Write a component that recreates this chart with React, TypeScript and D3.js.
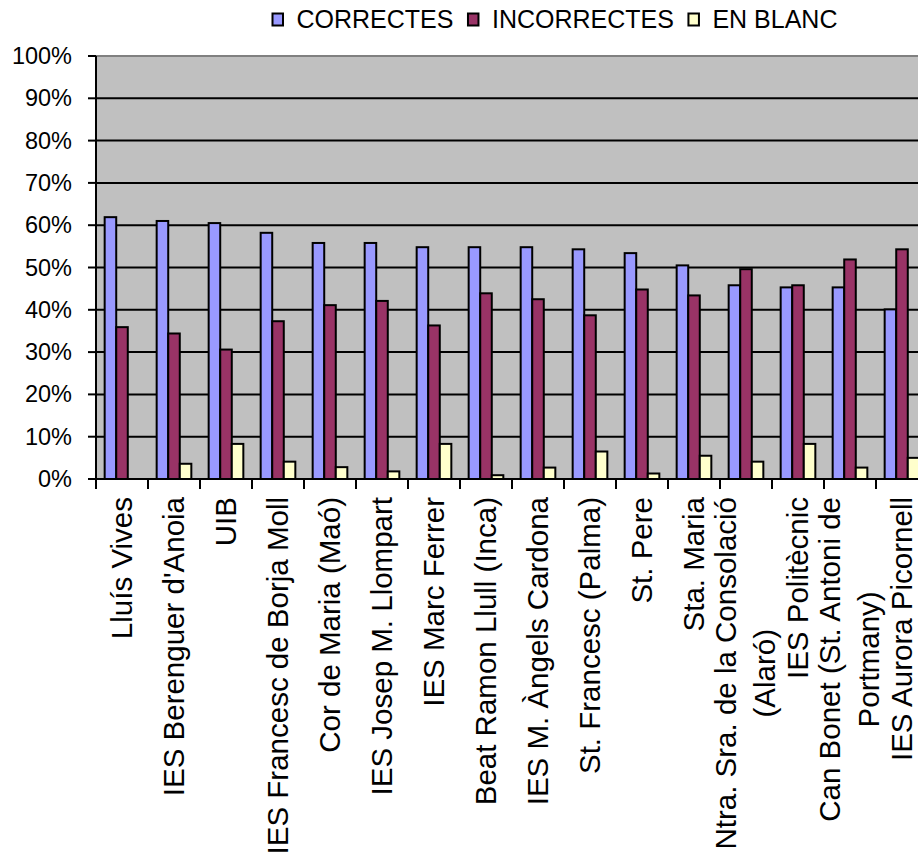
import React, { useEffect, useRef } from "react";
import * as d3 from "d3";

const categories = [
  "Lluís Vives",
  "IES Berenguer d'Anoia",
  "UIB",
  "IES Francesc de Borja Moll",
  "Cor de Maria (Maó)",
  "IES Josep M. Llompart",
  "IES Marc Ferrer",
  "Beat Ramon Llull (Inca)",
  "IES M. Àngels Cardona",
  "St. Francesc (Palma)",
  "St. Pere",
  "Sta. Maria",
  "Ntra. Sra. de la Consolació\n(Alaró)",
  "IES Politècnic",
  "Can Bonet (St. Antoni de\nPortmany)",
  "IES Aurora Picornell",
];

const seriesNames = ["CORRECTES", "INCORRECTES", "EN BLANC"];
const seriesColors = ["#9999FF", "#993366", "#FFFFCC"];

const correctes = [0.619, 0.61, 0.605, 0.582, 0.558, 0.558, 0.548, 0.548, 0.548, 0.543, 0.534, 0.505, 0.458, 0.453, 0.453, 0.401];
const incorrectes = [0.359, 0.344, 0.306, 0.373, 0.411, 0.421, 0.363, 0.439, 0.425, 0.387, 0.448, 0.434, 0.496, 0.458, 0.519, 0.543];
const enBlanc = [0, 0.036, 0.083, 0.041, 0.028, 0.018, 0.083, 0.009, 0.027, 0.065, 0.013, 0.055, 0.041, 0.083, 0.027, 0.05];

const yTicks = [0, 0.1, 0.2, 0.3, 0.4, 0.5, 0.6, 0.7, 0.8, 0.9, 1];

const FONT = "'Liberation Sans', Arial, Helvetica, sans-serif";

export default function App() {
  const ref = useRef<SVGSVGElement | null>(null);

  useEffect(() => {
    const svg = d3.select(ref.current);
    svg.selectAll("*").remove();

    const W = 918;
    const H = 852;
    const plot = { left: 96, right: 928, top: 56, bottom: 479 };

    const x = d3.scaleBand<string>().domain(categories).range([plot.left, plot.right]).paddingInner(0).paddingOuter(0);
    const xs = d3.scaleBand<string>().domain(seriesNames).range([0, x.bandwidth()]).paddingInner(0).paddingOuter(0.75);
    const y = d3.scaleLinear().domain([0, 1]).range([plot.bottom, plot.top]);

    const allSeries = [correctes, incorrectes, enBlanc];

    // plot background
    svg.append("rect")
      .attr("x", plot.left).attr("y", plot.top)
      .attr("width", plot.right - plot.left).attr("height", plot.bottom - plot.top)
      .attr("fill", "#C0C0C0");

    // gridlines
    svg.append("g").selectAll("line").data(yTicks.filter((t) => t > 0)).join("line")
      .attr("x1", plot.left).attr("x2", plot.right)
      .attr("y1", (d) => y(d)).attr("y2", (d) => y(d))
      .attr("stroke", (d) => (d === 1 ? "#808080" : "#000"))
      .attr("stroke-width", 2);

    // bars
    seriesNames.forEach((s, si) => {
      const vals = allSeries[si];
      svg.append("g").selectAll("rect").data(categories.map((c, i) => ({ c, v: vals[i] })).filter((d) => d.v > 0)).join("rect")
        .attr("x", (d) => (x(d.c) as number) + (xs(s) as number))
        .attr("y", (d) => y(d.v))
        .attr("width", xs.bandwidth())
        .attr("height", (d) => y(0) - y(d.v))
        .attr("fill", seriesColors[si])
        .attr("stroke", "#000")
        .attr("stroke-width", 2);
    });

    // axes lines
    svg.append("line").attr("x1", plot.left).attr("x2", plot.left).attr("y1", plot.top).attr("y2", plot.bottom)
      .attr("stroke", "#000").attr("stroke-width", 2);
    svg.append("line").attr("x1", plot.left).attr("x2", plot.right).attr("y1", plot.bottom).attr("y2", plot.bottom)
      .attr("stroke", "#000").attr("stroke-width", 2);

    // y ticks
    svg.append("g").selectAll("line").data(yTicks).join("line")
      .attr("x1", plot.left - 8).attr("x2", plot.left)
      .attr("y1", (d) => y(d)).attr("y2", (d) => y(d))
      .attr("stroke", "#000").attr("stroke-width", 2);
    svg.append("g").selectAll("text").data(yTicks).join("text")
      .attr("x", 72).attr("y", (d) => y(d))
      .attr("text-anchor", "end").attr("dominant-baseline", "central")
      .attr("font-family", FONT).attr("font-size", 23.5).attr("fill", "#000")
      .text((d) => d3.format(".0%")(d));

    // x ticks at category boundaries
    const bounds = categories.map((c) => x(c) as number).concat([plot.right]);
    svg.append("g").selectAll("line").data(bounds).join("line")
      .attr("x1", (d) => d).attr("x2", (d) => d)
      .attr("y1", plot.bottom).attr("y2", plot.bottom + 10)
      .attr("stroke", "#000").attr("stroke-width", 2);

    // x labels, rotated
    const lblFs = 29.5;
    const lineGap = 39;
    const yEnd = 497;
    categories.forEach((c) => {
      const lines = c.split("\n");
      const cx = (x(c) as number) + x.bandwidth() / 2;
      const g = svg.append("g");
      const texts = lines.map((ln) =>
        g.append("text").attr("font-family", FONT).attr("font-size", lblFs).attr("fill", "#000").text(ln)
      );
      const maxW = Math.max(...texts.map((t) => (t.node() as SVGTextElement).getComputedTextLength()));
      const n = lines.length;
      texts.forEach((t, i) => {
        const bx = cx + 9.5 + (i - (n - 1) / 2) * lineGap;
        const by = yEnd + maxW / 2;
        t.attr("text-anchor", "middle").attr("transform", `translate(${bx},${by}) rotate(-90)`);
      });
    });

    // legend
    let lx = 272.5;
    const ly = 27.5;
    seriesNames.forEach((s, si) => {
      svg.append("rect").attr("x", lx).attr("y", 13.5).attr("width", 10.5).attr("height", 12)
        .attr("fill", seriesColors[si]).attr("stroke", "#000").attr("stroke-width", 2);
      const t = svg.append("text").attr("x", lx + 24).attr("y", ly)
        .attr("font-family", FONT).attr("font-size", 25).attr("fill", "#000").text(s);
      const w = (t.node() as SVGTextElement).getComputedTextLength();
      lx = lx + 24 + w + 14.5;
    });

    svg.attr("width", W).attr("height", H);
  }, []);

  return (
    <svg
      ref={ref}
      width={918}
      height={852}
      style={{ position: "absolute", left: 0, top: 0, background: "#fff" }}
    />
  );
}
